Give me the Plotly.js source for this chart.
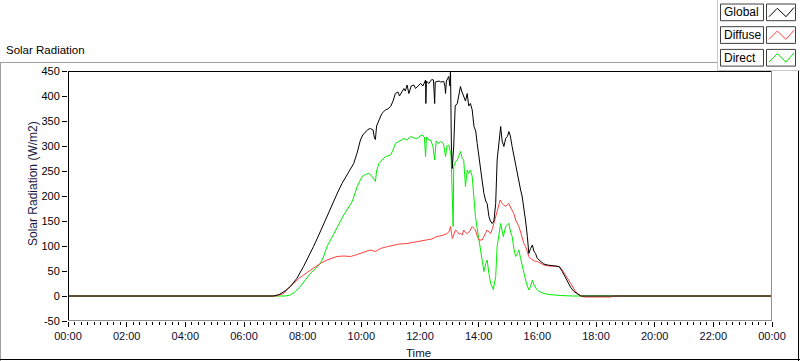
<!DOCTYPE html>
<html>
<head>
<meta charset="utf-8">
<script src="https://cdn.plot.ly/plotly-3.0.1.min.js"></script>
<style>
html,body{margin:0;padding:0;background:#fff;}
#chart{width:800px;height:361px;}
</style>
</head>
<body>
<div id="chart"></div>
<script>
// ---- data (hours of day, W/m2) ----
const seriesNames = ['Global', 'Diffuse', 'Direct'];
const seriesColors = ['#000000', '#ff4040', '#00ee00'];

const globalTime = [0,7.0,7.2,7.4,7.58,7.8,8.03,8.2,8.37,8.55,8.72,8.9,9.06,9.2,9.34,9.5,9.63,9.74,9.85,9.97,10.05,10.14,10.22,10.31,10.4,10.45,10.48,10.52,10.6,10.7,10.82,10.9,11.0,11.08,11.16,11.25,11.3,11.45,11.5,11.56,11.62,11.7,11.79,11.85,11.9,12.02,12.1,12.19,12.2,12.22,12.3,12.4,12.46,12.5,12.52,12.58,12.65,12.7,12.81,12.85,12.87,12.9,12.98,13.02,13.04,13.07,13.1,13.15,13.2,13.27,13.33,13.38,13.42,13.49,13.55,13.61,13.66,13.72,13.78,13.84,13.9,13.95,14.0,14.07,14.12,14.18,14.24,14.29,14.35,14.4,14.46,14.52,14.58,14.63,14.7,14.75,14.8,14.86,14.92,14.98,15.03,15.08,15.14,15.2,15.26,15.32,15.37,15.43,15.48,15.54,15.6,15.66,15.71,15.77,15.83,15.88,15.94,16.0,16.11,16.22,16.34,16.45,16.57,16.65,16.74,16.85,16.95,17.02,17.14,17.25,17.38,17.48,24];
const globalValues = [0,0,3,10,19,35,59,78,99,122,145,168,192,208,225,240,252,265,285,312,322,329,333,335,332,315,313,340,352,365,372,374,379,390,405,408,400,415,410,422,405,420,422,415,418,425,420,432,385,430,425,433,432,385,428,429,430,428,429,420,405,430,439,420,452,300,255,300,380,385,400,419,410,399,390,405,380,385,372,339,330,305,280,252,230,205,190,185,159,150,145,150,185,272,320,339,310,299,315,319,329,320,299,280,259,245,232,212,200,179,150,119,85,95,102,90,85,75,69,64,62,61,61,60,59,49,38,29,17,9,3,0,0];

const diffuseTime = [0,7.1,7.35,7.5,7.69,7.85,8.03,8.2,8.37,8.6,8.83,9.0,9.17,9.4,9.63,9.8,9.97,10.15,10.31,10.48,10.65,10.9,11.1,11.3,11.56,11.75,11.9,12.1,12.24,12.4,12.58,12.75,12.93,13.0,13.04,13.1,13.15,13.21,13.27,13.33,13.38,13.44,13.49,13.55,13.61,13.7,13.78,13.84,13.89,13.95,14.01,14.12,14.18,14.24,14.29,14.35,14.41,14.47,14.52,14.58,14.63,14.68,14.73,14.8,14.86,14.92,14.98,15.03,15.08,15.14,15.2,15.26,15.32,15.37,15.43,15.49,15.54,15.6,15.66,15.71,15.77,15.83,15.9,16.0,16.1,16.23,16.4,16.57,16.74,16.82,16.91,17.0,17.14,17.22,17.3,17.4,17.5,17.6,18.0,18.5,18.6,24];
const diffuseValues = [0,0,5,15,25,34,42,49,55,65,72,76,79,80,79,82,85,88,92,89,95,99,102,104,105,107,109,111,112,114,119,121,125,130,139,115,122,132,129,124,125,122,132,127,125,130,139,134,132,120,112,112,119,125,132,128,125,135,145,155,165,180,192,185,182,179,183,185,178,172,165,152,145,139,128,112,105,99,88,79,75,72,70,69,66,62,60,59,59,55,45,38,25,18,9,4,0,-2,-2,-2,0,0];

const directTime = [0,7.2,7.4,7.58,7.75,7.92,8.1,8.26,8.45,8.6,8.72,8.83,8.95,9.06,9.17,9.29,9.4,9.51,9.6,9.69,9.78,9.86,9.95,10.03,10.14,10.25,10.31,10.37,10.45,10.48,10.52,10.6,10.7,10.82,10.9,11.0,11.08,11.16,11.3,11.45,11.55,11.68,11.8,11.9,12.0,12.07,12.15,12.19,12.22,12.3,12.36,12.44,12.5,12.55,12.62,12.7,12.8,12.87,12.92,12.98,13.03,13.06,13.1,13.13,13.15,13.21,13.27,13.33,13.38,13.44,13.49,13.55,13.61,13.66,13.72,13.78,13.84,13.89,13.95,14.01,14.07,14.12,14.18,14.24,14.29,14.35,14.41,14.5,14.58,14.63,14.7,14.75,14.8,14.84,14.92,14.98,15.03,15.08,15.14,15.2,15.26,15.32,15.37,15.43,15.49,15.54,15.6,15.66,15.71,15.77,15.83,15.9,16.0,16.1,16.23,16.4,16.57,16.8,17.2,17.5,24];
const directValues = [0,0,0,2,9,19,32,45,56,65,80,99,112,125,138,152,162,172,180,189,205,219,230,239,243,245,243,239,232,229,250,265,272,279,280,282,292,305,310,315,312,319,316,315,320,322,318,279,318,312,312,300,272,310,305,309,305,279,300,302,290,280,200,139,259,268,272,280,289,275,272,219,252,245,252,239,192,159,135,112,95,79,49,65,72,45,25,13,39,99,130,145,130,119,139,142,145,130,119,95,79,85,92,75,59,45,32,20,12,20,32,20,12,8,5,3,2,1,0,0,0];

const xTickVals = [0,2,4,6,8,10,12,14,16,18,20,22,24];
const xTickText = ['00:00','02:00','04:00','06:00','08:00','10:00','12:00','14:00','16:00','18:00','20:00','22:00','00:00'];
const yTickVals = [-50,0,50,100,150,200,250,300,350,400,450];

// ---- layout geometry (pixels) ----
const W = 800, H = 361;
const PL = 68, PR = 772, PT = 71, PB = 321;
const px = x => (x - PL) / (PR - PL);
const py = y => (PB - y) / (PB - PT);

const traces = [
  {x: directTime, y: directValues, name: seriesNames[2], line: {color: seriesColors[2], width: 1}},
  {x: diffuseTime, y: diffuseValues, name: seriesNames[1], line: {color: seriesColors[1], width: 1}},
  {x: globalTime, y: globalValues, name: seriesNames[0], line: {color: seriesColors[0], width: 1}}
].map(t => Object.assign({type: 'scatter', mode: 'lines', hoverinfo: 'skip'}, t));

function hline(x0, x1, y, color) {
  return {type: 'line', xref: 'paper', yref: 'paper', x0: px(x0), x1: px(x1), y0: py(y), y1: py(y), line: {color: color, width: 1}};
}
function vline(x, y0, y1, color) {
  return {type: 'line', xref: 'paper', yref: 'paper', x0: px(x), x1: px(x), y0: py(y0), y1: py(y1), line: {color: color, width: 1}};
}
function rect(x0, y0, x1, y1, color) {
  return {type: 'rect', xref: 'paper', yref: 'paper', x0: px(x0), x1: px(x1), y0: py(y0), y1: py(y1), line: {color: color, width: 1}, fillcolor: '#ffffff'};
}

const shapes = [
  // outer frame
  hline(0, 717, 62.5, '#a0a0a0'),
  vline(0.5, 62, 361, '#a0a0a0'),
  hline(0, 800, 359.5, '#000000'),
  vline(798.5, 70, 361, '#000000'),
  // legend panel
  vline(717.5, 0, 70, '#c8c8c8'),
  hline(717, 800, 70.5, '#c8c8c8'),
  // plot frame
  vline(PL + 0.5, PT, PB, '#000000'),
  hline(PL, PR, PT + 0.5, '#000000'),
  vline(PR - 0.5, PT, PB, '#909090'),
  hline(PL, PR, PB - 0.5, '#909090')
];

const annotations = [
  {text: 'Solar Radiation', xref: 'paper', yref: 'paper', x: px(4), y: py(50), xanchor: 'left', yanchor: 'middle', showarrow: false, font: {family: 'Liberation Sans', size: 11.5, color: '#000000'}},
  {text: 'Solar Radiation (W/m2)', xref: 'paper', yref: 'paper', x: px(33), y: py(184), textangle: -90, xanchor: 'center', yanchor: 'middle', showarrow: false, font: {family: 'Liberation Sans', size: 12, color: '#1a1a40'}},
  {text: 'Time', xref: 'paper', yref: 'paper', x: px(418), y: py(353), xanchor: 'center', yanchor: 'middle', showarrow: false, font: {family: 'Liberation Sans', size: 11.5, color: '#10102a'}}
];

// custom legend
seriesNames.forEach((name, i) => {
  const top = 4 + i * 22.7, bot = top + 16.7;
  shapes.push(rect(720.5, top, 763.5, bot, '#404040'));
  shapes.push(rect(766.5, top, 795.5, bot, '#404040'));
  const pts = [[769, top + 12.7], [777.3, top + 4.3], [786, top + 12.7], [794, top + 3.5]];
  const path = 'M ' + pts.map(p => px(p[0]) + ' ' + py(p[1])).join(' L ');
  shapes.push({type: 'path', xref: 'paper', yref: 'paper', path: path, line: {color: seriesColors[i], width: 1}});
  annotations.push({text: name, xref: 'paper', yref: 'paper', x: px(722), y: py((top + bot) / 2), xanchor: 'left', yanchor: 'middle', showarrow: false, font: {family: 'Liberation Sans', size: 12, color: '#000000'}});
});

const layout = {
  width: W, height: H,
  margin: {l: PL, r: W - PR, t: PT, b: H - PB, pad: 0},
  paper_bgcolor: '#ffffff', plot_bgcolor: '#ffffff',
  showlegend: false,
  xaxis: {
    range: [0, 24], showgrid: false, zeroline: false, showline: false,
    tickmode: 'array', tickvals: xTickVals, ticktext: xTickText,
    ticks: 'outside', ticklen: 5, tickcolor: '#000000', tickwidth: 1,
    minor: {tickmode: 'linear', tick0: 0, dtick: 2 / 9, ticks: 'outside', ticklen: 3, tickcolor: '#000000', tickwidth: 1, showgrid: false},
    tickfont: {family: 'Liberation Sans', size: 11, color: '#0c0c30'},
    fixedrange: true
  },
  yaxis: {
    range: [-50, 450], showgrid: false, zeroline: false, showline: false,
    tickmode: 'array', tickvals: yTickVals, ticktext: yTickVals.map(String),
    ticks: 'outside', ticklen: 5, tickcolor: '#000000', tickwidth: 1,
    tickfont: {family: 'Liberation Sans', size: 11, color: '#000000'},
    fixedrange: true
  },
  shapes: shapes,
  annotations: annotations
};

Plotly.newPlot('chart', traces, layout, {staticPlot: true, displayModeBar: false});
</script>
</body>
</html>
